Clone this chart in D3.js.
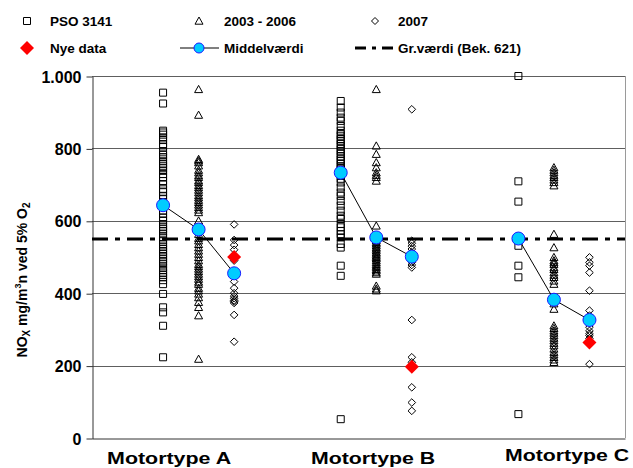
<!DOCTYPE html>
<html>
<head>
<meta charset="utf-8">
<script src="https://cdn.jsdelivr.net/npm/d3@7"></script>
<style>
body { margin: 0; background: #fff; }
svg text { font-family: "Liberation Sans", Arial, sans-serif; font-weight: bold; fill: #000; }
</style>
</head>
<body>
<div id="chart"></div>
<script>
var categories = ['Motortype A', 'Motortype B', 'Motortype C'];
var seriesNames = ['PSO 3141', '2003 - 2006', '2007'];
var yTicks = [0, 200, 400, 600, 800, 1000];
var limitValue = 550;
var limitName = 'Gr.værdi (Bek. 621)';
var meanName = 'Middelværdi';
var newName = 'Nye data';

var psoA = [954, 924, 849, 844, 838, 830, 823, 812, 805, 791, 782, 776, 766, 758, 752, 745, 738, 729, 721, 710, 700, 687, 679, 669, 661, 652, 646, 638, 628, 619, 609, 601, 591, 584, 577, 571, 563, 554, 546, 536, 529, 522, 515, 508, 501, 494, 487, 480, 471, 464, 457, 450, 444, 436, 425, 398, 361, 347, 310, 223];
var triA = [963, 892, 770, 766, 761, 752, 740, 733, 725, 720, 711, 706, 698, 692, 685, 678, 670, 664, 657, 651, 644, 637, 630, 623, 600, 563, 552, 545, 535, 526, 517, 508, 499, 490, 480, 474, 467, 460, 453, 446, 439, 431, 425, 414, 407, 398, 388, 375, 361, 338, 218];
var diaA = [590, 547, 533, 520, 505, 490, 432, 414, 400, 392, 386, 380, 377, 373, 340, 266];

var psoB = [931, 913, 899, 885, 876, 862, 849, 840, 835, 826, 821, 812, 806, 798, 792, 785, 778, 770, 765, 757, 750, 744, 738, 730, 724, 716, 706, 692, 678, 669, 655, 642, 628, 614, 605, 591, 582, 572, 563, 554, 536, 526, 476, 448, 52];
var triB = [963, 807, 784, 761, 747, 733, 726, 720, 710, 586, 545, 540, 536, 531, 526, 522, 517, 512, 508, 503, 499, 495, 490, 485, 480, 475, 471, 466, 462, 457, 453, 420, 412, 407];
var diaB = [908, 545, 538, 530, 522, 513, 506, 499, 492, 485, 478, 471, 326, 223, 209, 140, 98, 75];

var psoC = [1000, 709, 653, 551, 531, 476, 444, 66];
var triC = [747, 740, 733, 726, 720, 713, 706, 697, 563, 526, 499, 490, 485, 480, 471, 466, 457, 450, 444, 434, 425, 371, 356, 310, 303, 296, 290, 283, 276, 269, 262, 255, 246, 237, 230, 223, 216, 209];
var diaC = [499, 485, 476, 457, 407, 352, 338, 326, 318, 306, 296, 288, 283, 275, 204];

var meanA = [643, 576, 455];
var meanB = [733, 554, 501];
var meanC = [551, 382, 326];
var newData = [500, 197, 264];

var catLabelAt = [2.17, 7.91, 13.37];

(function(){
    function ScatterChart(arg){
	this.width = 633;
	this.height = 468;
	this.plot = {left: 92, right: 625, top: 76, bottom: 438};

	this.x = d3.scaleLinear().domain([0, 15]).range([this.plot.left, this.plot.right]);
	this.y = d3.scaleLinear().domain([0, 1000]).range([this.plot.bottom, this.plot.top]);

	this.svg = d3.select(arg.bindTo).append('svg')
	    .attr('width', this.width)
	    .attr('height', this.height);
    }

    ScatterChart.prototype.marker = function(shape, r){
	if(shape == 'square') return 'M' + (-r) + ',' + (-r) + 'h' + 2*r + 'v' + 2*r + 'h' + (-2*r) + 'Z';
	if(shape == 'triangle') return 'M0,' + (-r) + 'L' + r + ',' + r*0.8 + 'L' + (-r) + ',' + r*0.8 + 'Z';
	return 'M0,' + (-r) + 'L' + r + ',0L0,' + r + 'L' + (-r) + ',0Z';
    }

    ScatterChart.prototype.drawAxes = function(){
	var self = this;
	var fmt = d3.formatLocale({decimal: ',', thousands: '.', grouping: [3], currency: ['', '']}).format(',');

	this.svg.append('g').selectAll('line').data(yTicks.filter(function(d){return d > 0}))
	    .enter().append('line')
	    .attr('x1', this.plot.left).attr('x2', this.plot.right)
	    .attr('y1', function(d){return Math.round(self.y(d)) + 0.5})
	    .attr('y2', function(d){return Math.round(self.y(d)) + 0.5})
	    .attr('stroke', '#5e5e5e');

	this.svg.append('line')
	    .attr('x1', this.plot.right + 0.5).attr('x2', this.plot.right + 0.5)
	    .attr('y1', this.plot.top).attr('y2', this.plot.bottom)
	    .attr('stroke', '#9a9a9a');

	var ax = this.svg.append('g')
	    .attr('transform', 'translate(' + (this.plot.left + 0.5) + ',0.5)')
	    .call(d3.axisLeft(this.y).tickValues(yTicks).tickSize(6).tickSizeOuter(0).tickFormat(fmt));
	ax.selectAll('path, line').attr('stroke', '#333');
	ax.selectAll('text').attr('font-size', 16).attr('x', -11).attr('dy', '0.35em');

	this.svg.append('g')
	    .attr('transform', 'translate(0,' + (this.plot.bottom + 0.5) + ')')
	    .call(d3.axisBottom(this.x).tickValues([]).tickSizeOuter(0))
	    .selectAll('path').attr('stroke', '#333');

	var title = this.svg.append('text')
	    .attr('transform', 'translate(27,280) rotate(-90)')
	    .attr('text-anchor', 'middle')
	    .attr('font-size', 14);
	title.append('tspan').text('NO');
	title.append('tspan').attr('font-size', 10).attr('dy', 3).text('X');
	title.append('tspan').attr('dy', -3).text(' mg/m');
	title.append('tspan').attr('font-size', 9).attr('dy', -6).text('3');
	title.append('tspan').attr('dy', 6).text('n ved 5% O');
	title.append('tspan').attr('font-size', 10).attr('dy', 3).text('2');

	this.svg.append('g').selectAll('text').data(categories)
	    .enter().append('text')
	    .attr('x', function(d, i){return self.x(catLabelAt[i])})
	    .attr('y', function(d, i){return i == 2 ? 461 : 464})
	    .attr('text-anchor', 'middle')
	    .attr('font-size', 16)
	    .attr('textLength', 124)
	    .attr('lengthAdjust', 'spacingAndGlyphs')
	    .text(function(d){return d});
    }

    ScatterChart.prototype.drawPoints = function(){
	var self = this;
	var shapes = ['square', 'triangle', 'diamond'];
	var groups = [[psoA, triA, diaA], [psoB, triB, diaB], [psoC, triC, diaC]];
	var pts = [];
	groups.forEach(function(g, gi){
	    g.forEach(function(vals, si){
		vals.forEach(function(v){
		    pts.push({xv: 2 + gi*5 + si, v: v, shape: shapes[si]});
		});
	    });
	});
	var sizes = {square: 3.5, triangle: 4, diamond: 3.8};
	this.svg.append('g').selectAll('path').data(pts)
	    .enter().append('path')
	    .attr('transform', function(d){return 'translate(' + self.x(d.xv) + ',' + self.y(d.v) + ')'})
	    .attr('d', function(d){return self.marker(d.shape, sizes[d.shape])})
	    .attr('fill', 'none')
	    .attr('stroke', '#000')
	    .attr('stroke-width', 1);
    }

    ScatterChart.prototype.drawLimit = function(){
	this.svg.append('line')
	    .attr('x1', this.plot.left).attr('x2', this.plot.right)
	    .attr('y1', this.y(limitValue)).attr('y2', this.y(limitValue))
	    .attr('stroke', '#000').attr('stroke-width', 3)
	    .attr('stroke-dasharray', '16,7,5,7');
    }

    ScatterChart.prototype.drawMeans = function(){
	var self = this;
	var means = [meanA, meanB, meanC];
	var line = d3.line()
	    .x(function(d){return self.x(d.xv)})
	    .y(function(d){return self.y(d.v)});
	var data = means.map(function(m, gi){
	    return m.map(function(v, si){return {xv: 2 + gi*5 + si, v: v}});
	});
	this.svg.append('g').selectAll('path').data(data)
	    .enter().append('path')
	    .attr('d', line)
	    .attr('fill', 'none').attr('stroke', '#000').attr('stroke-width', 1);

	this.svg.append('g').selectAll('circle').data(d3.merge(data))
	    .enter().append('circle')
	    .attr('cx', function(d){return self.x(d.xv)})
	    .attr('cy', function(d){return self.y(d.v)})
	    .attr('r', 6.5)
	    .attr('fill', '#00ccff').attr('stroke', '#1a1aff').attr('stroke-width', 1);

	this.svg.append('g').selectAll('path').data(newData)
	    .enter().append('path')
	    .attr('transform', function(d, i){return 'translate(' + self.x(4 + i*5) + ',' + self.y(d) + ')'})
	    .attr('d', self.marker('diamond', 7))
	    .attr('fill', '#ff0000');
    }

    ScatterChart.prototype.drawLegend = function(){
	var self = this;
	var lg = this.svg.append('g');
	var shapes = ['square', 'triangle', 'diamond'];
	var col = [{m: 27, t: 50}, {m: 199, t: 224}, {m: 375, t: 398}];
	seriesNames.forEach(function(name, i){
	    lg.append('path')
		.attr('transform', 'translate(' + col[i].m + ',21)')
		.attr('d', self.marker(shapes[i], i == 1 ? 4 : 3.5))
		.attr('fill', 'none').attr('stroke', '#000');
	    lg.append('text').attr('x', col[i].t).attr('y', 26).attr('font-size', 13.5).text(name);
	});

	lg.append('path')
	    .attr('transform', 'translate(' + col[0].m + ',48)')
	    .attr('d', self.marker('diamond', 7))
	    .attr('fill', '#ff0000');
	lg.append('text').attr('x', col[0].t).attr('y', 53).attr('font-size', 13.5).text(newName);

	lg.append('line').attr('x1', 180).attr('x2', 219).attr('y1', 48).attr('y2', 48)
	    .attr('stroke', '#000');
	lg.append('circle').attr('cx', 199).attr('cy', 48).attr('r', 5)
	    .attr('fill', '#00ccff').attr('stroke', '#1a1aff');
	lg.append('text').attr('x', col[1].t).attr('y', 53).attr('font-size', 13.5).text(meanName);

	lg.append('line').attr('x1', 355).attr('x2', 395).attr('y1', 48).attr('y2', 48)
	    .attr('stroke', '#000').attr('stroke-width', 3)
	    .attr('stroke-dasharray', '11,6,4,6');
	lg.append('text').attr('x', col[2].t).attr('y', 53).attr('font-size', 13.5).text(limitName);
    }

    var chart = new ScatterChart({bindTo: 'div#chart'});
    chart.drawAxes();
    chart.drawPoints();
    chart.drawLimit();
    chart.drawMeans();
    chart.drawLegend();
})();
</script>
</body>
</html>
